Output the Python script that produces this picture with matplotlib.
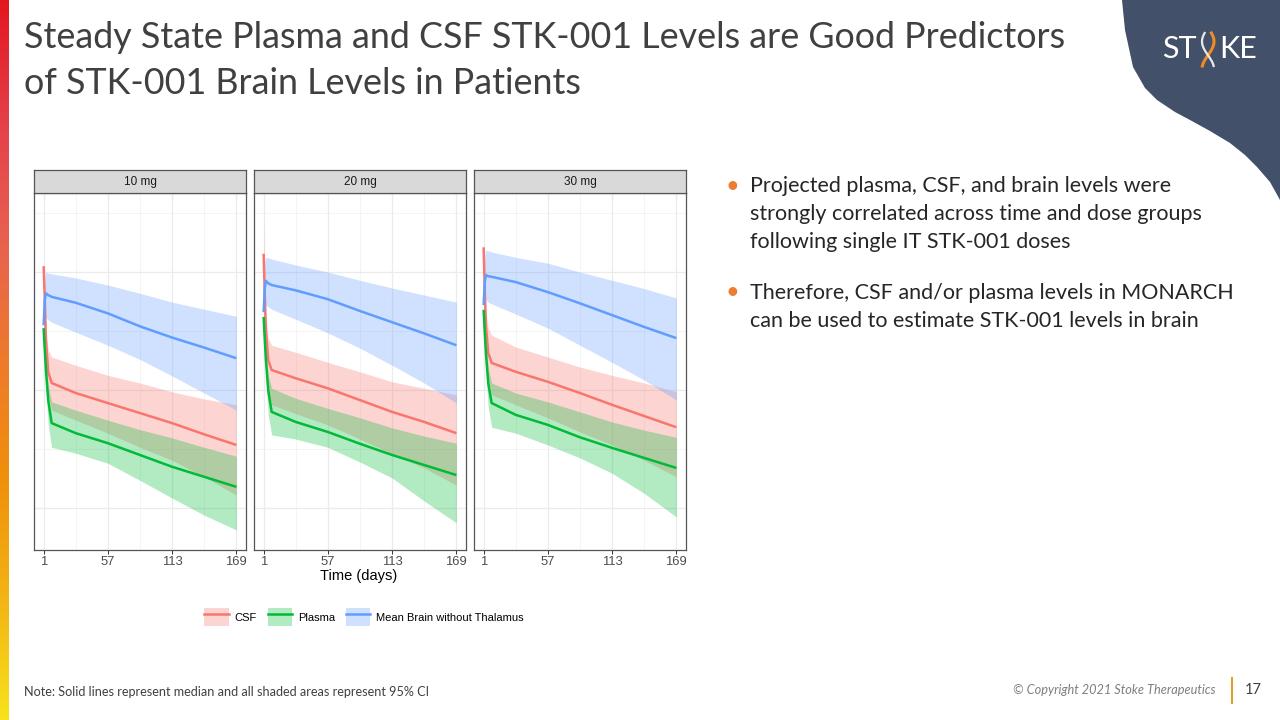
import numpy as np
import matplotlib.pyplot as plt
from matplotlib.colors import LinearSegmentedColormap
from matplotlib.patches import Patch, Polygon
from matplotlib.lines import Line2D
from matplotlib.legend_handler import HandlerTuple

# --- data (arbitrary log-level units) ---
days = [1, 2, 3, 5, 8, 29, 57, 85, 113, 141, 169]
doses = ['10 mg', '20 mg', '30 mg']
series = ['CSF', 'Plasma', 'Mean Brain without Thalamus']

csf_med = [[4.10, 3.53, 2.85, 2.31, 2.12, 1.95, 1.78, 1.61, 1.44, 1.25, 1.07],
           [4.31, 3.61, 3.02, 2.51, 2.34, 2.20, 2.03, 1.83, 1.63, 1.46, 1.27],
           [4.42, 3.69, 3.10, 2.63, 2.46, 2.31, 2.14, 1.95, 1.75, 1.56, 1.37]]
csf_hi = [[4.17, 3.61, 3.02, 2.68, 2.56, 2.42, 2.25, 2.12, 1.97, 1.85, 1.75],
          [4.92, 3.78, 3.19, 2.88, 2.76, 2.64, 2.47, 2.31, 2.14, 2.03, 1.92],
          [4.49, 3.86, 3.32, 3.05, 2.93, 2.73, 2.56, 2.39, 2.25, 2.12, 1.97]]
csf_lo = [[4.00, 3.36, 2.59, 1.92, 1.66, 1.49, 1.27, 1.03, 0.81, 0.53, 0.22],
          [4.17, 3.36, 2.76, 2.08, 1.75, 1.60, 1.41, 1.17, 0.92, 0.68, 0.39],
          [4.29, 3.44, 2.85, 2.20, 1.92, 1.75, 1.53, 1.29, 1.07, 0.81, 0.53]]

plasma_med = [[3.05, 2.68, 2.34, 1.83, 1.44, 1.27, 1.10, 0.90, 0.70, 0.53, 0.36],
              [3.24, 2.85, 2.51, 2.00, 1.63, 1.46, 1.29, 1.09, 0.90, 0.73, 0.56],
              [3.36, 2.97, 2.63, 2.12, 1.78, 1.58, 1.41, 1.20, 1.02, 0.85, 0.68]]
plasma_hi = [[3.12, 2.85, 2.59, 2.08, 1.80, 1.66, 1.49, 1.33, 1.19, 1.03, 0.88],
             [3.31, 3.02, 2.76, 2.25, 2.03, 1.86, 1.69, 1.53, 1.36, 1.22, 1.10],
             [3.42, 3.15, 2.88, 2.37, 2.12, 1.95, 1.80, 1.63, 1.46, 1.32, 1.20]]
plasma_lo = [[2.93, 2.42, 2.00, 1.41, 1.03, 0.93, 0.76, 0.47, 0.17, -0.12, -0.37],
             [3.15, 2.59, 2.17, 1.58, 1.24, 1.17, 1.03, 0.78, 0.51, 0.12, -0.25],
             [3.27, 2.71, 2.31, 1.71, 1.37, 1.27, 1.07, 0.85, 0.59, 0.25, -0.15]]

brain_med = [[3.10, 3.53, 3.64, 3.61, 3.58, 3.48, 3.30, 3.08, 2.89, 2.72, 2.54],
             [3.32, 3.73, 3.85, 3.81, 3.78, 3.69, 3.54, 3.34, 3.15, 2.96, 2.76],
             [3.44, 3.83, 3.95, 3.93, 3.92, 3.83, 3.66, 3.47, 3.27, 3.07, 2.88]]
brain_hi = [[3.22, 3.93, 4.00, 3.98, 3.97, 3.90, 3.78, 3.64, 3.49, 3.37, 3.25],
            [3.44, 4.17, 4.25, 4.24, 4.22, 4.12, 4.00, 3.86, 3.73, 3.61, 3.49],
            [3.56, 4.29, 4.37, 4.36, 4.34, 4.25, 4.15, 4.00, 3.86, 3.72, 3.56]]
brain_lo = [[3.02, 3.22, 3.22, 3.19, 3.15, 2.98, 2.76, 2.52, 2.24, 1.95, 1.66],
            [3.22, 3.44, 3.44, 3.41, 3.37, 3.20, 2.97, 2.71, 2.42, 2.12, 1.78],
            [3.36, 3.56, 3.53, 3.49, 3.46, 3.29, 3.05, 2.76, 2.47, 2.17, 1.83]]

xticks = [1, 57, 113, 169]
colors = ['#F8766D', '#00BA38', '#619CFF']

title_lines = ['Steady State Plasma and CSF STK-001 Levels are Good Predictors',
               'of STK-001 Brain Levels in Patients']
bullets = [['Projected plasma, CSF, and brain levels were',
            'strongly correlated across time and dose groups',
            'following single IT STK-001 doses'],
           ['Therefore, CSF and/or plasma levels in MONARCH',
            'can be used to estimate STK-001 levels in brain']]
note = 'Note: Solid lines represent median and all shaded areas represent 95% CI'

W, H = 1280, 720


def fx(x):
    return x / W


def fy(y):
    return 1 - y / H


fig = plt.figure(figsize=(12.8, 7.2), dpi=100)
fig.patch.set_facecolor('white')

# left gradient bar
bar = fig.add_axes([0, 0, fx(9), 1])
grad = LinearSegmentedColormap.from_list(
    'bar', ['#E3161F', '#E4404A', '#E86150', '#EE7A2B', '#F0900A', '#F3B414', '#F8E21C'])
bar.imshow(np.linspace(0, 1, 256).reshape(-1, 1), aspect='auto', cmap=grad)
bar.axis('off')

# logo background shape
shape = [(1122, 0), (1125, 30), (1133, 67), (1145, 88), (1157, 100), (1175, 112),
         (1190, 120), (1210, 131), (1230, 143), (1245, 155), (1257, 167),
         (1270, 182), (1280, 200), (1280, 0)]
fig.patches.append(Polygon([(fx(x), fy(y)) for x, y in shape], closed=True,
                           transform=fig.transFigure, facecolor='#435069',
                           edgecolor='none'))
fig.text(fx(1197), fy(49), 'ST', color='white', fontsize=22, family='Lato',
         ha='right', va='center')
fig.text(fx(1219), fy(49), 'KE', color='white', fontsize=22, family='Lato',
         ha='left', va='center')
yy = np.linspace(33, 66, 40)
fig.add_artist(Line2D(fx(1208 + 6 * np.sin((yy - 33) / 33 * np.pi * 1.2 + 0.6)), fy(yy),
                      color='#F08A24', lw=2.2))
fig.add_artist(Line2D(fx(1208 - 6 * np.sin((yy - 33) / 33 * np.pi * 1.2 + 0.6)), fy(yy),
                      color='#E8E8EE', lw=1.6))

# title
for y, line in zip([38, 83], title_lines):
    fig.text(fx(24), fy(y), line, fontsize=25.8, family='Lato', color='#404040',
             ha='left', va='center')

# panels
left0, step, pw = 34, 220, 212
top, bot = 193, 550
for i, dose in enumerate(doses):
    x0 = left0 + i * step
    ax = fig.add_axes([fx(x0), fy(bot), fx(pw), (bot - top) / H])
    bands = [(csf_lo[i], csf_hi[i]), (plasma_lo[i], plasma_hi[i]),
             (brain_lo[i], brain_hi[i])]
    meds = [csf_med[i], plasma_med[i], brain_med[i]]
    for (lo, hi), c in zip(bands, colors):
        ax.fill_between(days, lo, hi, color=c, alpha=0.3, lw=0)
    for m, c in zip(meds, colors):
        ax.plot(days, m, color=c, lw=1.8, solid_capstyle='butt')
    ax.set_xlim(-7.4, 177.4)
    ax.set_ylim(-0.71, 5.34)
    ax.set_xticks(xticks)
    ax.set_xticklabels([str(t) for t in xticks], fontsize=9.4, color='#4D4D4D',
                       family='Liberation Sans')
    ax.set_xticks([29, 85, 141], minor=True)
    ax.set_yticks([0, 2, 4])
    ax.set_yticks([1, 3, 5], minor=True)
    ax.grid(which='major', color='#EBEBEB', lw=0.9)
    ax.grid(which='minor', color='#F2F2F2', lw=0.6)
    ax.set_axisbelow(True)
    ax.tick_params(axis='x', which='major', length=3, width=0.7, color='#333333', pad=1)
    ax.tick_params(axis='x', which='minor', length=0)
    ax.tick_params(axis='y', which='both', length=0, labelleft=False)
    for s in ax.spines.values():
        s.set_color('#555555')
        s.set_linewidth(0.9)

    strip = fig.add_axes([fx(x0), fy(top), fx(pw), 23 / H])
    strip.set_facecolor('#D9D9D9')
    strip.set_xticks([])
    strip.set_yticks([])
    for s in strip.spines.values():
        s.set_color('#555555')
        s.set_linewidth(0.9)
    strip.text(0.5, 0.5, dose, ha='center', va='center', fontsize=8.5,
               color='#1A1A1A', family='Liberation Sans', transform=strip.transAxes)

fig.text(fx(359), fy(576), 'Time (days)', fontsize=10.5, color='black',
         family='Liberation Sans', ha='center', va='center')

# legend
handles = [(Patch(facecolor=c, alpha=0.3, edgecolor='none'),
            Line2D([], [], color=c, lw=1.8)) for c in colors]
fig.legend(handles, series, loc='center', bbox_to_anchor=(fx(364), fy(617)),
           ncol=3, frameon=False, prop={'family': 'Liberation Sans', 'size': 8},
           handlelength=2.2, handleheight=2.0, columnspacing=1.0,
           handletextpad=0.5, handler_map={tuple: HandlerTuple(ndivide=1)})

# bullets
starts = [186, 293]
for y0, lines in zip(starts, bullets):
    fig.text(fx(726), fy(y0), '\u2022', fontsize=17, color='#ED7D31',
             family='Lato', ha='left', va='center')
    for k, line in enumerate(lines):
        fig.text(fx(750), fy(y0 + 28 * k), line, fontsize=15.5, color='#262626',
                 family='Lato', ha='left', va='center')

# footer
fig.text(fx(24), fy(692), note, fontsize=9.1, color='#404040', family='Lato',
         ha='left', va='center')
fig.text(fx(1216), fy(690), '\u00a9 Copyright 2021 Stoke Therapeutics', fontsize=9.2,
         color='#7F7F7F', family='Lato', style='italic', ha='right', va='center')
fig.add_artist(Line2D([fx(1232), fx(1232)], [fy(678), fy(703)], color='#E0A030', lw=1.5))
fig.text(fx(1245), fy(690), '17', fontsize=10.5, color='#404040', family='Lato',
         ha='left', va='center')

fig.savefig('out.png', dpi=100)
